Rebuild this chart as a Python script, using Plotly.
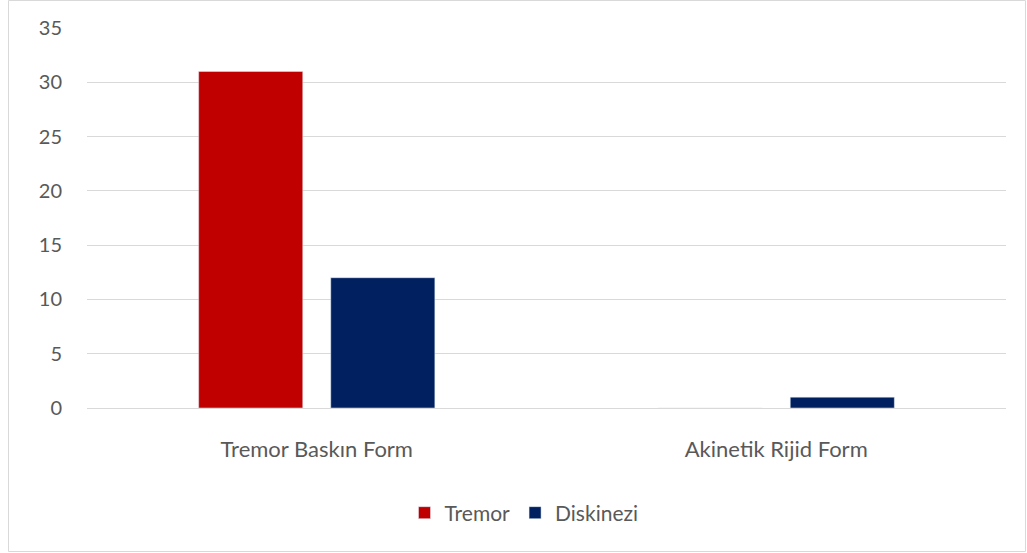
import plotly.graph_objects as go

categories = ["Tremor Baskın Form", "Akinetik Rijid Form"]
tremor = [31, 0]
diskinezi = [12, 1]
y_ticks = [0, 5, 10, 15, 20, 25, 30, 35]

W, H = 1027, 553
L, R, T, B = 87, 21, 28, 145
pw, ph = W - L - R, H - T - B

def px(x):
    return (x - L) / pw

def py(y):
    return (H - B - y) / ph

font = "Lato, Carlito, 'Open Sans', sans-serif"
grey = "#595959"

fig = go.Figure()
fig.add_trace(go.Bar(x=categories, y=tremor, name="Tremor", marker_color="#C00000"))
fig.add_trace(go.Bar(x=categories, y=diskinezi, name="Diskinezi", marker_color="#002060"))

fig.update_layout(
    width=W, height=H,
    margin=dict(l=L, r=R, t=T, b=B),
    paper_bgcolor="white", plot_bgcolor="white",
    barmode="group", bargap=0.425, bargroupgap=0.212,
    font=dict(family=font, color=grey, size=20),
    legend=dict(orientation="h", x=px(524), xanchor="center", y=py(513), yanchor="middle",
                font=dict(size=21, color=grey), itemwidth=30, traceorder="normal"),
    showlegend=True,
    shapes=[dict(type="rect", xref="paper", yref="paper",
                 x0=px(8.5), x1=px(1025.5), y0=py(551.5), y1=py(0.5),
                 line=dict(color="#D9D9D9", width=1), fillcolor="rgba(0,0,0,0)", layer="below")],
)
fig.update_yaxes(range=[0, 35], tickvals=y_ticks, showgrid=True, gridcolor="#D9D9D9", gridwidth=1,
                 zeroline=True, zerolinecolor="#D9D9D9", zerolinewidth=1, showline=False,
                 ticklabelstandoff=24, tickfont=dict(size=20, color=grey), fixedrange=True)
fig.update_xaxes(showgrid=False, showline=False, ticklabelstandoff=26,
                 tickfont=dict(size=22, color=grey))

fig.write_html("out.html")
